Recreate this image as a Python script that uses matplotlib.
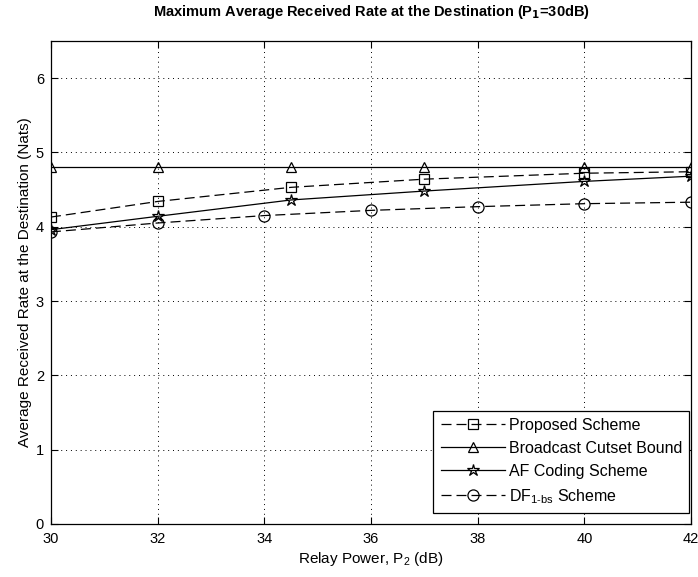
import numpy as np
import matplotlib
matplotlib.use('Agg')
import matplotlib.pyplot as plt

plt.rcParams['font.family'] = ['Liberation Sans', 'DejaVu Sans']
plt.rcParams['mathtext.default'] = 'regular'

# relay power (dB) for each scheme
pVals = [30, 32, 34.5, 37, 40, 42]
pValsDF = [30, 32, 34, 36, 38, 40, 42]

# average received rate (nats)
proposed = [4.13, 4.34, 4.53, 4.64, 4.72, 4.74]
cutset = [4.80, 4.80, 4.80, 4.80, 4.80, 4.80]
afCoding = [3.96, 4.14, 4.36, 4.48, 4.61, 4.68]
dfScheme = [3.93, 4.05, 4.15, 4.22, 4.27, 4.31, 4.33]

fig = plt.figure(figsize=(6.98, 5.77), dpi=100)
ax = fig.add_axes([0.073, 0.092, 0.917, 0.837])

mk = dict(color='k', markerfacecolor='none', markeredgecolor='k', markersize=7, linewidth=0.9, markeredgewidth=0.9)
ax.plot(pVals, proposed, '--s', dashes=(8, 4), label='Proposed Scheme', **mk)
ax.plot(pVals, cutset, '-^', label='Broadcast Cutset Bound', **mk)
ax.plot(pVals, afCoding, '-*', label='AF Coding Scheme', **dict(mk, markersize=9))
ax.plot(pValsDF, dfScheme, '--o', dashes=(8, 4), label='DF$_{1\u2011bs}$ Scheme', **dict(mk, markersize=8))

ax.set_xlim(30, 42)
ax.set_ylim(0, 6.5)
ax.set_xticks(np.arange(30, 43, 2))
ax.set_yticks(np.arange(0, 7, 1))
ax.grid(True, color='k', linestyle=(0, (1, 4)), linewidth=0.7)
ax.tick_params(direction='in', top=True, right=True, labelsize=10.5, length=5, width=0.8)
ax.tick_params(axis='x', pad=6)
ax.tick_params(axis='y', pad=5)
for s in ax.spines.values():
    s.set_linewidth(0.9)

ax.set_xlabel('Relay Power, P$_2$ (dB)', fontsize=11, labelpad=3)
ax.set_ylabel('Average Received Rate at the Destination (Nats)', fontsize=11, labelpad=3)
ax.set_title(r'Maximum Average Received Rate at the Destination (P$_{\mathbf{1}}$=30dB)',
             fontsize=10.5, fontweight='bold', pad=18)

leg = ax.legend(loc='lower right', bbox_to_anchor=(0.997, 0.023), fontsize=11.5, fancybox=False,
                edgecolor='k', framealpha=1, handlelength=4.0, borderaxespad=0, labelspacing=0.5,
                handletextpad=0.25, borderpad=0.45)
leg.get_frame().set_linewidth(0.9)

fig.savefig('out.png', dpi=100)
